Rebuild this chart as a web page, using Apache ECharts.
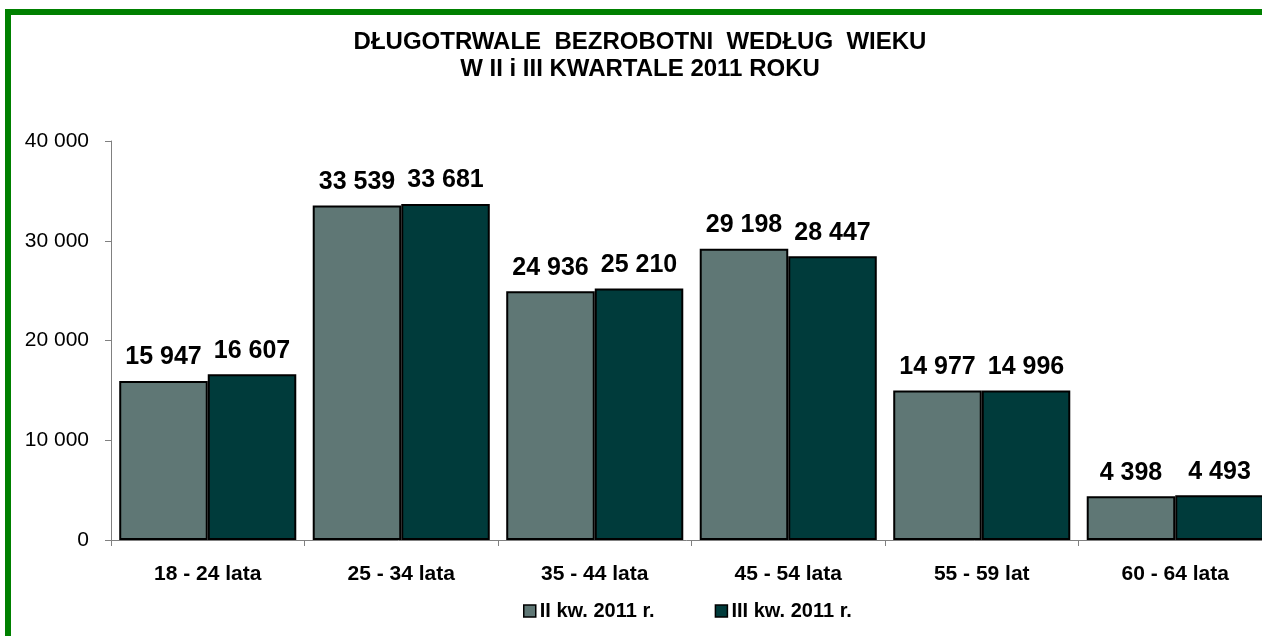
<!DOCTYPE html>
<html><head><meta charset="utf-8">
<script src="https://cdn.jsdelivr.net/npm/echarts@6/dist/echarts.min.js"></script>
<style>html,body{margin:0;padding:0;background:#fff}#c{width:1262px;height:636px}</style>
</head><body><div id="c"></div>
<script>
const categories = ['18 - 24 lata','25 - 34 lata','35 - 44 lata','45 - 54 lata','55 - 59 lat','60 - 64 lata'];
const seriesNames = ['II kw. 2011 r.','III kw. 2011 r.'];
const q2Values = [15947, 33539, 24936, 29198, 14977, 4398];
const q3Values = [16607, 33681, 25210, 28447, 14996, 4493];
const yTicks = [0, 10000, 20000, 30000, 40000];

const fmt = v => String(v).replace(/\B(?=(\d{3})+(?!\d))/g, ' ');
const chart = echarts.init(document.getElementById('c'), null, {renderer:'canvas'});
const font = 'Liberation Sans, Arial, sans-serif';
const labelCfg = {show:true, position:'top', distance:11, color:'#000', fontSize:25, fontWeight:'bold', fontFamily:font, formatter:p=>fmt(p.value)};
chart.setOption({
  animation:false,
  backgroundColor:'#fff',
  graphic:[{type:'rect', shape:{x:8,y:12,width:1300,height:700}, style:{fill:'none', stroke:'#008000', lineWidth:6}, z:100}],
  title:{
    text:'DŁUGOTRWALE  BEZROBOTNI  WEDŁUG  WIEKU\nW II i III KWARTALE 2011 ROKU',
    left:635, top:24, textAlign:'center',
    textStyle:{fontFamily:font, fontSize:24, fontWeight:'bold', color:'#000', lineHeight:27}
  },
  legend:{
    top:596, left:518, itemGap:60, itemWidth:12, itemHeight:12, icon:'rect',
    textStyle:{fontFamily:font, fontSize:20, fontWeight:'bold', color:'#000', padding:[0,0,0,-1]},
    itemStyle:{borderColor:'#000', borderWidth:1.5},
    data:seriesNames
  },
  grid:{left:111, top:141, right:-10, bottom:96, outerBoundsMode:'none', containLabel:false},
  xAxis:{
    type:'category', data:categories,
    axisLine:{lineStyle:{color:'#808080', width:1}},
    axisTick:{show:true, length:6, lineStyle:{color:'#808080'}},
    axisLabel:{color:'#000', fontFamily:font, fontSize:21, fontWeight:'bold', margin:24}
  },
  yAxis:{
    type:'value', min:yTicks[0], max:yTicks[yTicks.length-1], interval:10000,
    axisLine:{show:true, lineStyle:{color:'#808080', width:1}},
    axisTick:{show:true, length:6, lineStyle:{color:'#808080'}},
    splitLine:{show:false},
    axisLabel:{color:'#000', fontFamily:font, fontSize:21, margin:22, formatter:v=>fmt(v)}
  },
  series:[
    {name:seriesNames[0], type:'bar', data:q2Values, barGap:'0%', barCategoryGap:'8.5%',
     itemStyle:{color:'#5F7775', borderColor:'#000', borderWidth:2}, label:labelCfg},
    {name:seriesNames[1], type:'bar', data:q3Values, barGap:'0%', barCategoryGap:'8.5%',
     itemStyle:{color:'#003B3B', borderColor:'#000', borderWidth:2}, label:labelCfg}
  ]
});
</script></body></html>
